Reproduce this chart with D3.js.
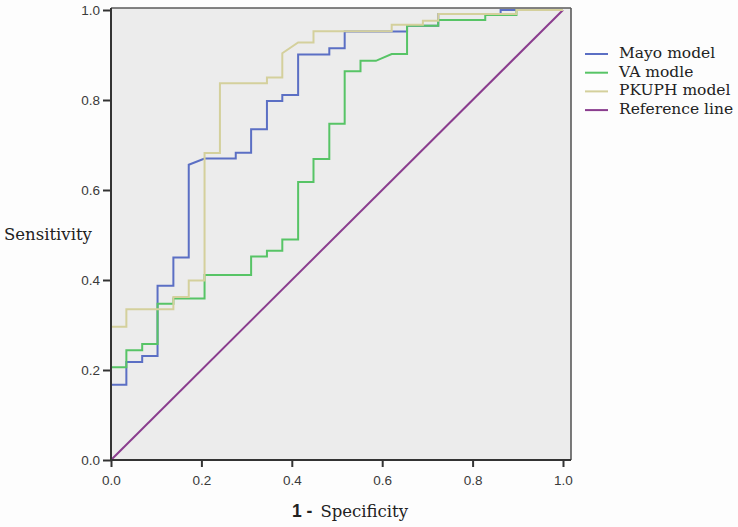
<!DOCTYPE html>
<html>
<head>
<meta charset="utf-8">
<script src="https://cdn.jsdelivr.net/npm/d3@7"></script>
<style>
  html, body { margin: 0; padding: 0; background: #fdfdfd; }
  svg { display: block; }
</style>
</head>
<body>
<svg id="chart" width="738" height="527"></svg>
<script>
// ---- data ----
const tickValues = [0, 0.2, 0.4, 0.6, 0.8, 1.0];

const seriesNames = ["Mayo model", "VA modle", "PKUPH model", "Reference line"];
const seriesColors = ["#5b6fc4", "#57c466", "#d4d09c", "#8a3d8e"];

const mayoFPR = [0,0,0.034,0.034,0.069,0.069,0.103,0.103,0.138,0.138,0.172,0.172,0.207,0.276,0.276,0.310,0.310,0.345,0.345,0.379,0.379,0.414,0.414,0.483,0.483,0.517,0.517,0.655,0.655,0.724,0.724,0.862,0.862,1];
const mayoTPR = [0,0.167,0.167,0.218,0.218,0.231,0.231,0.387,0.387,0.450,0.450,0.656,0.670,0.670,0.683,0.683,0.735,0.735,0.798,0.798,0.811,0.811,0.901,0.901,0.915,0.915,0.952,0.952,0.965,0.965,0.991,0.991,1,1];

const vaFPR = [0,0,0.034,0.034,0.069,0.069,0.103,0.103,0.138,0.138,0.207,0.207,0.310,0.310,0.345,0.345,0.379,0.379,0.414,0.414,0.448,0.448,0.483,0.483,0.517,0.517,0.552,0.552,0.586,0.621,0.655,0.655,0.724,0.724,0.828,0.828,0.897,0.897,1];
const vaTPR = [0,0.206,0.206,0.244,0.244,0.258,0.258,0.347,0.347,0.359,0.359,0.411,0.411,0.452,0.452,0.465,0.465,0.490,0.490,0.618,0.618,0.669,0.669,0.747,0.747,0.864,0.864,0.887,0.887,0.902,0.902,0.965,0.965,0.978,0.978,0.989,0.989,1,1];

const pkuphFPR = [0,0,0.034,0.034,0.138,0.138,0.172,0.172,0.207,0.207,0.241,0.241,0.345,0.345,0.379,0.379,0.414,0.448,0.448,0.621,0.621,0.690,0.690,0.724,0.724,0.897,0.897,1];
const pkuphTPR = [0,0.296,0.296,0.335,0.335,0.362,0.362,0.399,0.399,0.682,0.682,0.837,0.837,0.850,0.850,0.904,0.928,0.928,0.953,0.953,0.967,0.967,0.976,0.976,0.991,0.991,1,1];

const refFPR = [0, 1];
const refTPR = [0, 1];

// ---- layout ----
const svg = d3.select("#chart");
const x = d3.scaleLinear().domain([0, 1]).range([111, 563]);
const y = d3.scaleLinear().domain([0, 1]).range([460, 10]);
const plotLeft = 111, plotRight = 571, plotTop = 8, plotBottom = 460;

// plot background
svg.append("rect")
  .attr("x", plotLeft).attr("y", plotTop)
  .attr("width", plotRight - plotLeft).attr("height", plotBottom - plotTop)
  .attr("fill", "#ececec");

// frame top & right
svg.append("line").attr("x1", plotLeft).attr("x2", plotRight).attr("y1", plotTop).attr("y2", plotTop)
  .attr("stroke", "#5a5a5a").attr("stroke-width", 1.6);
svg.append("line").attr("x1", plotRight).attr("x2", plotRight).attr("y1", plotTop).attr("y2", plotBottom)
  .attr("stroke", "#5a5a5a").attr("stroke-width", 1.6);

// series
const line = d3.line().x(d => x(d[0])).y(d => y(d[1]));
const series = [
  d3.zip(mayoFPR, mayoTPR),
  d3.zip(vaFPR, vaTPR),
  d3.zip(pkuphFPR, pkuphTPR),
  d3.zip(refFPR, refTPR)
];
const drawOrder = [3, 0, 1, 2];
drawOrder.forEach(i => {
  svg.append("path")
    .datum(series[i])
    .attr("d", line)
    .attr("fill", "none")
    .attr("stroke", seriesColors[i])
    .attr("stroke-width", 2)
    .attr("stroke-linejoin", "miter");
});

// axes
const fmt = d3.format(".1f");
const xAxis = svg.append("g")
  .attr("transform", `translate(0,${plotBottom})`)
  .call(d3.axisBottom(x).tickValues(tickValues).tickFormat(fmt).tickSize(7).tickPadding(8).tickSizeOuter(0));
const yAxis = svg.append("g")
  .attr("transform", `translate(${plotLeft},0)`)
  .call(d3.axisLeft(y).tickValues(tickValues).tickFormat(fmt).tickSize(8).tickPadding(3).tickSizeOuter(0));

[xAxis, yAxis].forEach(g => {
  g.select(".domain").remove();
  g.selectAll(".tick line").attr("stroke", "#333").attr("stroke-width", 2);
  g.selectAll(".tick text")
    .attr("fill", "#3a3a3a")
    .style("font-family", "'Liberation Sans', Arial, sans-serif")
    .style("font-size", "13.5px");
});

// axis lines
svg.append("line").attr("x1", plotLeft).attr("x2", plotRight).attr("y1", plotBottom).attr("y2", plotBottom)
  .attr("stroke", "#333").attr("stroke-width", 2);
svg.append("line").attr("x1", plotLeft).attr("x2", plotLeft).attr("y1", plotTop).attr("y2", plotBottom)
  .attr("stroke", "#333").attr("stroke-width", 2);

// axis titles
svg.append("text")
  .attr("x", 4).attr("y", 240)
  .attr("fill", "#222")
  .style("font-family", "'DejaVu Serif', serif")
  .style("font-size", "16.5px")
  .text("Sensitivity");

const xt = svg.append("text")
  .attr("x", 292).attr("y", 517)
  .attr("fill", "#222");
xt.append("tspan")
  .style("font-family", "'Liberation Sans', Arial, sans-serif")
  .style("font-weight", "bold")
  .style("font-size", "17.5px")
  .text("1 -");
xt.append("tspan")
  .attr("dx", 8)
  .style("font-family", "'DejaVu Serif', serif")
  .style("font-size", "16.5px")
  .text("Specificity");

// legend
const legend = svg.append("g");
seriesNames.forEach((name, i) => {
  const ly = 54 + i * 18.7;
  legend.append("line")
    .attr("x1", 585).attr("x2", 608).attr("y1", ly).attr("y2", ly)
    .attr("stroke", seriesColors[i]).attr("stroke-width", 2);
  legend.append("text")
    .attr("x", 619).attr("y", ly + 4)
    .attr("fill", "#222")
    .style("font-family", "'DejaVu Serif', serif")
    .style("font-size", "15.5px")
    .text(name);
});
</script>
</body>
</html>
